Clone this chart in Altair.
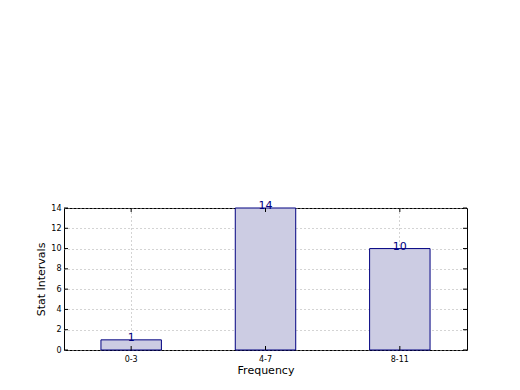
import altair as alt
import pandas as pd

categories = ["0-3", "4-7", "8-11"]
values = [1, 14, 10]
y_ticks = [0, 2, 4, 6, 8, 10, 12, 14]

df = pd.DataFrame({"cat": categories, "val": values})
yt = pd.DataFrame({"v": y_ticks})

W, H = 403, 142
FONT = "DejaVu Sans"

xscale = alt.Scale(domain=categories, paddingInner=0.55, paddingOuter=0.275)
yscale = alt.Scale(domain=[0, 14], nice=False)

xaxis = alt.Axis(title="Frequency", labelFontSize=8, titleFontSize=11, labelAngle=0,
                 grid=True, gridDash=[1, 3], gridColor="#a8a8a8", gridWidth=1,
                 ticks=False, domain=False, labelPadding=5, titlePadding=1,
                 labelColor="black", titleColor="black", labelFont=FONT, titleFont=FONT,
                 titleFontWeight="normal")
yaxis = alt.Axis(title="Stat Intervals", values=y_ticks, labelFontSize=8, titleFontSize=11,
                 grid=True, gridDash=[1, 3], gridColor="#a8a8a8", gridWidth=1,
                 labelOverlap=False, labelFlush=False,
                 ticks=False, domain=False, labelPadding=3, titlePadding=4,
                 labelColor="black", titleColor="black", labelFont=FONT, titleFont=FONT,
                 titleFontWeight="normal")

def X(field):
    return alt.X(field, type="nominal", scale=xscale, axis=xaxis, sort=categories, title="Frequency")

def Y(field):
    return alt.Y(field, type="quantitative", scale=yscale, axis=yaxis, title="Stat Intervals")

bars = alt.Chart(df).mark_bar(fill="#ccccE3", stroke="#000080", strokeWidth=1).encode(
    x=X("cat"), y=Y("val"),
)

labels = alt.Chart(df).mark_text(color="#000080", fontSize=11, font=FONT, baseline="bottom", dy=3).encode(
    x=X("cat"), y=Y("val"), text="val:Q",
)

lt = alt.Chart(yt).mark_rule(color="black").encode(
    y=Y("v"), x=alt.value(0), x2=alt.value(4))
rt = alt.Chart(yt).mark_rule(color="black").encode(
    y=Y("v"), x=alt.value(W - 4), x2=alt.value(W))
bt = alt.Chart(df).mark_rule(color="black").encode(
    x=X("cat"), y=alt.value(H - 4), y2=alt.value(H))
tt = alt.Chart(df).mark_rule(color="black").encode(
    x=X("cat"), y=alt.value(0), y2=alt.value(4))

chart = alt.layer(bars, lt, rt, bt, tt, labels).properties(
    width=W, height=H,
    autosize=alt.AutoSizeParams(type="none"),
    padding={"left": 64, "top": 208, "right": 53, "bottom": 40},
    background="white",
).configure_view(stroke="black", strokeWidth=1)

chart.save("out.html", embed_options={"renderer": "svg", "actions": False})
